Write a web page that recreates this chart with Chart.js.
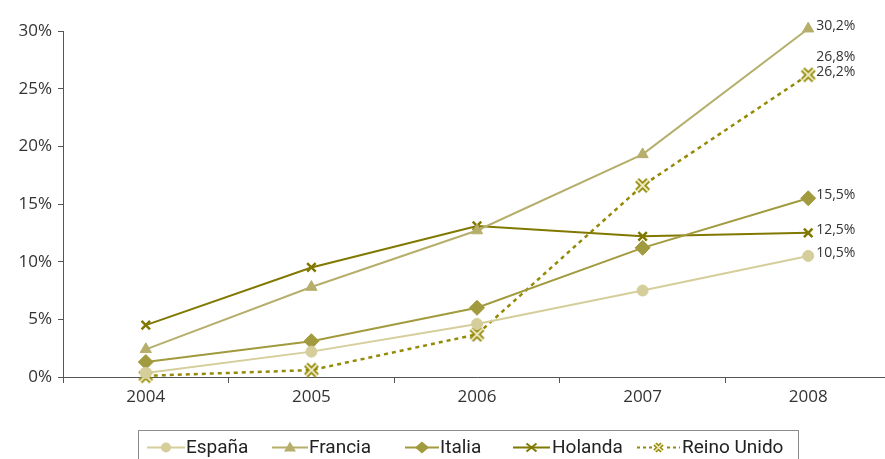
<!DOCTYPE html>
<html>
<head>
<meta charset="utf-8">
<script src="https://cdn.jsdelivr.net/npm/chart.js@4/dist/chart.umd.min.js"></script>
<style>
  html, body { margin: 0; padding: 0; background: #fff; overflow: hidden; }
  #wrap { width: 885px; height: 459px; position: relative; overflow: hidden; }
  #c { position: absolute; left: 0; top: 0; }
</style>
</head>
<body>
<!-- the x axis runs slightly past the right edge, so the canvas is a bit wider than the frame -->
<div id="wrap"><canvas id="c" width="891" height="459"></canvas></div>
<script>
// Years on the horizontal axis
const years = ['2004', '2005', '2006', '2007', '2008'];

// Share per country (%)
const espana     = [0.35, 2.2, 4.6, 7.5, 10.5];
const francia    = [2.4, 7.8, 12.7, 19.3, 30.2];
const italia     = [1.3, 3.1, 6.0, 11.2, 15.5];
const holanda    = [4.5, 9.5, 13.1, 12.2, 12.5];
const reinoUnido = [0.1, 0.6, 3.7, 16.6, 26.2];

// Y tick values
const yTicks = [0, 5, 10, 15, 20, 25, 30];

// Extra end-of-line text shown above a series' own value label
const extraEndLabels = { 'Reino Unido': '26,8%' };

const FONT = "'Open Sans', 'DejaVu Sans', sans-serif";
const fmt = v => v.toFixed(1).replace('.', ',') + '%';

// Hollow double-stroke cross used for Reino Unido
function makeCrossMarker(size, outer, inner, wOut, wIn) {
  const cv = document.createElement('canvas');
  cv.width = size; cv.height = size;
  const g = cv.getContext('2d');
  const m = 3;
  const draw = (w, col) => {
    g.strokeStyle = col; g.lineWidth = w;
    g.beginPath();
    g.moveTo(m, m); g.lineTo(size - m, size - m);
    g.moveTo(size - m, m); g.lineTo(m, size - m);
    g.stroke();
  };
  draw(wOut, outer);
  draw(wIn, inner);
  return cv;
}
const ukMarker = makeCrossMarker(17, '#948a06', '#efebc6', 5.5, 2);
const ukMarkerSmall = makeCrossMarker(13, '#948a06', '#efebc6', 4.5, 1.5);

const series = [
  { label: 'España', data: espana, color: '#d5ce9a', style: 'circle', radius: 5.5, dash: [] },
  { label: 'Francia', data: francia, color: '#b6ae6b', style: 'triangle', radius: 6.5, dash: [] },
  { label: 'Italia', data: italia, color: '#a29a3e', style: 'rectRot', radius: 7.5, dash: [] },
  { label: 'Holanda', data: holanda, color: '#817800', style: 'crossRot', radius: 6, dash: [] },
  { label: 'Reino Unido', data: reinoUnido, color: '#948a06', style: ukMarker, radius: 8, dash: [4, 4] }
];

const datasets = series.map(s => ({
  label: s.label,
  data: s.data,
  borderColor: s.color,
  backgroundColor: s.color,
  borderWidth: s.label === 'Reino Unido' ? 2.5 : 2,
  borderDash: s.dash,
  pointStyle: s.style,
  pointRadius: s.radius,
  pointHoverRadius: s.radius,
  pointBorderColor: s.color,
  pointBackgroundColor: s.color,
  pointBorderWidth: s.style === 'crossRot' ? 2.5 : 1,
  tension: 0,
  fill: false,
  clip: false
}));

// Value labels at the last point of each series
const endLabels = {
  id: 'endLabels',
  afterDatasetsDraw(chart) {
    const ctx = chart.ctx;
    ctx.save();
    ctx.font = "14px " + FONT;
    ctx.fillStyle = '#333333';
    ctx.textAlign = 'left';
    ctx.textBaseline = 'middle';
    chart.data.datasets.forEach((ds, i) => {
      const meta = chart.getDatasetMeta(i);
      const last = meta.data[meta.data.length - 1];
      const v = ds.data[ds.data.length - 1];
      const x = last.x + 8, y = last.y - 3;
      ctx.fillText(fmt(v), x, y);
      if (extraEndLabels[ds.label]) {
        ctx.fillText(extraEndLabels[ds.label], x, y - 15);
      }
    });
    ctx.restore();
  }
};

// Boxed legend along the bottom
const legendItems = [
  { line: [147, 185], text: 186 },
  { line: [272, 308], text: 309 },
  { line: [405, 439], text: 440 },
  { line: [513, 550], text: 552 },
  { line: [637, 680], text: 682 }
];
const boxLegend = {
  id: 'boxLegend',
  afterDraw(chart) {
    const ctx = chart.ctx;
    const top = 430, left = 138, right = 798, bottom = 462;
    ctx.save();
    ctx.strokeStyle = '#8c8c8c';
    ctx.lineWidth = 1;
    ctx.strokeRect(left + 0.5, top + 0.5, right - left, bottom - top);
    const cy = 447.5;
    ctx.font = "19px Roboto, " + FONT;
    ctx.textBaseline = 'middle';
    ctx.textAlign = 'left';
    series.forEach((s, i) => {
      const it = legendItems[i];
      const [x0, x1] = it.line;
      ctx.strokeStyle = s.color;
      ctx.lineWidth = 2;
      ctx.setLineDash(s.dash.length ? [3, 3] : []);
      ctx.beginPath();
      ctx.moveTo(x0, cy); ctx.lineTo(x1, cy);
      ctx.stroke();
      ctx.setLineDash([]);
      const mx = (x0 + x1) / 2;
      ctx.fillStyle = s.color;
      ctx.strokeStyle = s.color;
      const r = 5;
      ctx.beginPath();
      if (s.style === ukMarker) {
        ctx.fillStyle = '#fff';
        ctx.fillRect(mx - 6, cy - 6, 12, 12);
        ctx.drawImage(ukMarkerSmall, mx - 6.5, cy - 6.5);
      } else if (s.style === 'circle') {
        ctx.arc(mx, cy, r, 0, Math.PI * 2); ctx.fill();
      } else if (s.style === 'triangle') {
        ctx.moveTo(mx, cy - r - 1); ctx.lineTo(mx + r + 1, cy + r - 1); ctx.lineTo(mx - r - 1, cy + r - 1); ctx.closePath(); ctx.fill();
      } else if (s.style === 'rectRot') {
        ctx.moveTo(mx, cy - r - 1); ctx.lineTo(mx + r + 2, cy); ctx.lineTo(mx, cy + r + 1); ctx.lineTo(mx - r - 2, cy); ctx.closePath(); ctx.fill();
      } else {
        ctx.lineWidth = 2;
        ctx.moveTo(mx - 5, cy - 4); ctx.lineTo(mx + 5, cy + 4); ctx.moveTo(mx + 5, cy - 4); ctx.lineTo(mx - 5, cy + 4); ctx.stroke();
      }
      ctx.fillStyle = '#222222';
      ctx.fillText(s.label, it.text, cy + 1);
    });
    ctx.restore();
  }
};

new Chart(document.getElementById('c'), {
  type: 'line',
  data: { labels: years, datasets },
  plugins: [endLabels, boxLegend],
  options: {
    responsive: false,
    animation: false,
    events: [],
    layout: { autoPadding: false, padding: { top: 31, right: 0, left: 0, bottom: 0 } },
    plugins: { legend: { display: false }, tooltip: { enabled: false } },
    scales: {
      x: {
        offset: true,
        grid: {
          display: true,
          drawOnChartArea: false,
          drawTicks: true,
          tickLength: 6,
          offset: true,
          color: '#555555'
        },
        border: { display: true, color: '#555555', width: 1 },
        ticks: { color: '#333333', font: { family: FONT, size: 17 }, padding: 4 },
        afterFit(scale) { scale.height = 82; }
      },
      y: {
        min: 0,
        max: 30,
        afterBuildTicks(scale) { scale.ticks = yTicks.map(v => ({ value: v })); },
        grid: {
          display: true,
          drawOnChartArea: false,
          drawTicks: true,
          tickLength: 5,
          color: '#555555'
        },
        border: { display: true, color: '#555555', width: 1 },
        ticks: {
          color: '#333333',
          font: { family: FONT, size: 17 },
          padding: 6,
          callback: v => v + '%'
        },
        afterFit(scale) { scale.width = 63; }
      }
    }
  }
});
</script>
</body>
</html>
